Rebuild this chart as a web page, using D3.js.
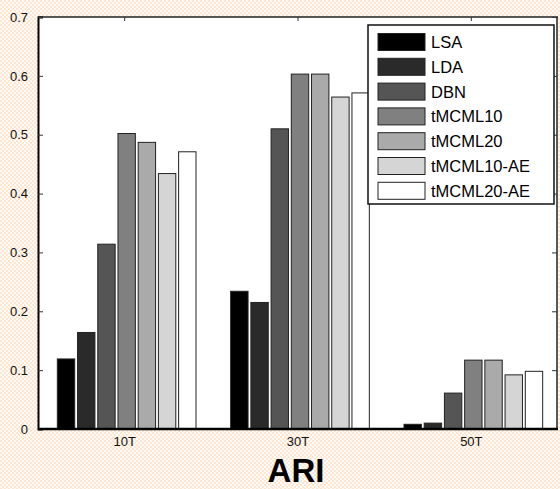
<!DOCTYPE html>
<html>
<head>
<meta charset="utf-8">
<script src="https://cdn.jsdelivr.net/npm/d3@7"></script>
<style>
  html, body { margin: 0; padding: 0; }
  svg { display: block; }
  text { font-family: "Liberation Sans", Arial, sans-serif; }
</style>
</head>
<body>
<script>
// ARI scores per topic setting
const categories = ["10T", "30T", "50T"];
const methods = ["LSA", "LDA", "DBN", "tMCML10", "tMCML20", "tMCML10-AE", "tMCML20-AE"];
const LSA        = [0.119, 0.234, 0.008];
const LDA        = [0.164, 0.215, 0.010];
const DBN        = [0.314, 0.510, 0.061];
const tMCML10    = [0.502, 0.603, 0.117];
const tMCML20    = [0.487, 0.603, 0.117];
const tMCML10_AE = [0.434, 0.564, 0.092];
const tMCML20_AE = [0.471, 0.571, 0.098];
const seriesValues = [LSA, LDA, DBN, tMCML10, tMCML20, tMCML10_AE, tMCML20_AE];
const yTicks = [0, 0.1, 0.2, 0.3, 0.4, 0.5, 0.6, 0.7];
const yTickLabels = ["0", "0.1", "0.2", "0.3", "0.4", "0.5", "0.6", "0.7"];
const fills = ["#000000", "#2a2a2a", "#555555", "#808080", "#aaaaaa", "#d5d5d5", "#ffffff"];

const W = 560, H = 489;
const m = { left: 38, right: 2, top: 17, bottom: 60 };

const svg = d3.select("body").append("svg").attr("width", W).attr("height", H);

// checkered peach backdrop
const defs = svg.append("defs");
const pat = defs.append("pattern").attr("id", "bg").attr("width", 4).attr("height", 4)
  .attr("patternUnits", "userSpaceOnUse");
pat.append("rect").attr("width", 4).attr("height", 4).attr("fill", "#fffaf4");
pat.append("rect").attr("width", 2).attr("height", 2).attr("fill", "#fde6d2");
pat.append("rect").attr("x", 2).attr("y", 2).attr("width", 2).attr("height", 2).attr("fill", "#fde6d2");
svg.append("rect").attr("width", W).attr("height", H).attr("fill", "url(#bg)");

const x0 = d3.scaleBand().domain(categories).range([m.left, W - m.right]).paddingInner(0.2).paddingOuter(0.1);
const x1 = d3.scaleBand().domain(methods).range([0, x0.bandwidth()]).paddingInner(0.14);
const y = d3.scaleLinear().domain([0, 0.7]).range([H - m.bottom, m.top]);

const x0Left = m.left, x0Right = W - m.right;
const yB = y(0), yT = y(0.7);

// plot area
svg.append("rect").attr("x", x0Left).attr("y", yT).attr("width", x0Right - x0Left).attr("height", yB - yT)
  .attr("fill", "#ffffff");

// bars
const groups = svg.append("g").selectAll("g").data(categories).join("g")
  .attr("transform", d => `translate(${x0(d) + 2},0)`);
groups.selectAll("rect")
  .data((c, ci) => methods.map((mth, mi) => ({ mth, mi, v: seriesValues[mi][ci] })))
  .join("rect")
  .attr("x", d => x1(d.mth))
  .attr("width", x1.bandwidth())
  .attr("y", d => y(d.v))
  .attr("height", d => yB - y(d.v))
  .attr("fill", d => fills[d.mi])
  .attr("stroke", "#222")
  .attr("stroke-width", 1);

// frame
svg.append("line").attr("x1", x0Left).attr("x2", x0Right).attr("y1", yT).attr("y2", yT)
  .attr("stroke", "#222").attr("stroke-width", 1.5);
svg.append("line").attr("x1", x0Right - 1).attr("x2", x0Right - 1).attr("y1", yT).attr("y2", yB)
  .attr("stroke", "#222").attr("stroke-width", 1.5);

// left axis with inward ticks
const yAxis = d3.axisLeft(y).tickValues(yTicks).tickSize(-5).tickPadding(10)
  .tickFormat((d, i) => yTickLabels[i]);
const gy = svg.append("g").attr("transform", `translate(${x0Left},0)`).call(yAxis);
gy.select(".domain").attr("stroke", "#000").attr("stroke-width", 2);
gy.selectAll(".tick line").attr("stroke", "#333");
gy.selectAll(".tick text").attr("font-size", 13).attr("fill", "#111")
  .attr("font-family", "Liberation Sans, Arial, sans-serif");

// right axis ticks (inward)
const gyr = svg.append("g").attr("transform", `translate(${x0Right - 1},0)`)
  .call(d3.axisRight(y).tickValues(yTicks).tickSize(-5).tickFormat(""));
gyr.select(".domain").remove();
gyr.selectAll(".tick line").attr("stroke", "#333");

// bottom axis
const xAxis = d3.axisBottom(x0).tickSize(0).tickPadding(8);
const gx = svg.append("g").attr("transform", `translate(0,${yB})`).call(xAxis);
gx.select(".domain").attr("d", `M${x0Left},0H${x0Right}`).attr("stroke", "#000").attr("stroke-width", 2.5);
gx.selectAll(".tick text").attr("font-size", 13).attr("fill", "#111")
  .attr("font-family", "Liberation Sans, Arial, sans-serif");

// top axis ticks (inward)
const gxt = svg.append("g").attr("transform", `translate(0,${yT})`)
  .call(d3.axisTop(x0).tickSize(-4).tickFormat(""));
gxt.select(".domain").remove();
gxt.selectAll(".tick line").attr("stroke", "#333");

// legend
const lg = svg.append("g").attr("transform", "translate(368,25)");
lg.append("rect").attr("width", 186).attr("height", 179).attr("fill", "#fff")
  .attr("stroke", "#111").attr("stroke-width", 1.5);
const rows = lg.selectAll("g.row").data(methods).join("g").attr("class", "row")
  .attr("transform", (d, i) => `translate(10,${17 + i * 24.8})`);
rows.append("rect").attr("x", 0).attr("y", -8.5).attr("width", 47).attr("height", 17)
  .attr("fill", (d, i) => fills[i]).attr("stroke", "#222").attr("stroke-width", 1);
rows.append("text").attr("x", 53).attr("y", 6).attr("font-size", 16.5).attr("fill", "#000")
  .text(d => d);

// title
svg.append("text").attr("x", 296).attr("y", 481.5).attr("text-anchor", "middle")
  .attr("font-size", 33).attr("font-weight", "bold").attr("fill", "#000")
  .text("ARI");
</script>
</body>
</html>
